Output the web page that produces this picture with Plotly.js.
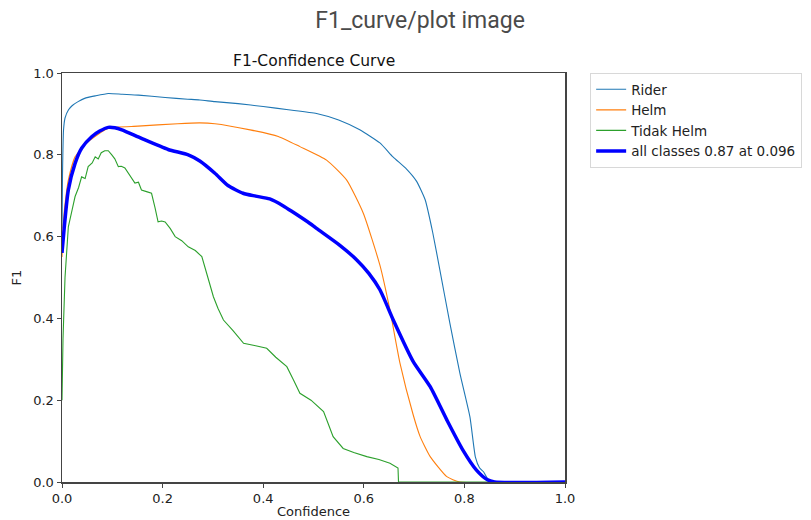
<!DOCTYPE html>
<html>
<head>
<meta charset="utf-8">
<script src="https://cdn.plot.ly/plotly-3.0.1.min.js"></script>
<style>html,body{margin:0;padding:0;background:#fff;}#chart{width:811px;height:520px;}</style>
</head>
<body>
<div id="chart"></div>
<script>
const seriesNames = ["Rider", "Helm", "Tidak Helm", "all classes 0.87 at 0.096"];

const riderX = [0, 0.001, 0.003, 0.006, 0.013, 0.02, 0.032, 0.045, 0.066, 0.092, 0.12, 0.152, 0.205, 0.25, 0.274, 0.304, 0.35, 0.4, 0.45, 0.506, 0.55, 0.592, 0.632, 0.658, 0.685, 0.705, 0.722, 0.737, 0.751, 0.771, 0.791, 0.811, 0.822, 0.83, 0.838, 0.851, 0.9, 1.0];
const riderY = [0.62, 0.75, 0.86, 0.89, 0.91, 0.92, 0.93, 0.938, 0.944, 0.95, 0.948, 0.946, 0.94, 0.936, 0.934, 0.93, 0.925, 0.918, 0.91, 0.901, 0.885, 0.861, 0.829, 0.795, 0.765, 0.735, 0.69, 0.61, 0.52, 0.389, 0.266, 0.159, 0.06, 0.035, 0.025, 0, 0, 0];

const helmX = [0, 0.003, 0.008, 0.0126, 0.026, 0.052, 0.092, 0.151, 0.23, 0.274, 0.304, 0.374, 0.43, 0.473, 0.526, 0.566, 0.599, 0.632, 0.652, 0.672, 0.698, 0.712, 0.732, 0.765, 0.791, 1.0];
const helmY = [0.55, 0.64, 0.70, 0.738, 0.795, 0.832, 0.865, 0.87, 0.876, 0.878, 0.876, 0.861, 0.845, 0.82, 0.787, 0.738, 0.657, 0.53, 0.42, 0.29, 0.165, 0.111, 0.062, 0.013, 0, 0];

const tidakX = [0, 0.002, 0.006, 0.0126, 0.02, 0.026, 0.033, 0.039, 0.046, 0.052, 0.06, 0.066, 0.072, 0.078, 0.085, 0.092, 0.099, 0.105, 0.112, 0.118, 0.125, 0.135, 0.145, 0.152, 0.158, 0.168, 0.178, 0.185, 0.191, 0.198, 0.205, 0.215, 0.225, 0.238, 0.251, 0.265, 0.278, 0.29, 0.301, 0.31, 0.321, 0.34, 0.361, 0.385, 0.407, 0.425, 0.447, 0.46, 0.473, 0.495, 0.52, 0.53, 0.539, 0.559, 0.58, 0.606, 0.63, 0.652, 0.668, 0.669, 1.0];
const tidakY = [0.2, 0.35, 0.5, 0.624, 0.665, 0.698, 0.72, 0.746, 0.742, 0.771, 0.78, 0.795, 0.79, 0.805, 0.81, 0.81, 0.80, 0.79, 0.771, 0.772, 0.768, 0.75, 0.731, 0.733, 0.714, 0.71, 0.706, 0.67, 0.636, 0.638, 0.636, 0.62, 0.6, 0.59, 0.575, 0.566, 0.551, 0.5, 0.453, 0.425, 0.396, 0.37, 0.339, 0.333, 0.327, 0.305, 0.282, 0.25, 0.217, 0.2, 0.172, 0.14, 0.111, 0.082, 0.072, 0.062, 0.055, 0.046, 0.034, 0, 0];

const allX = [0, 0.0126, 0.026, 0.039, 0.059, 0.075, 0.092, 0.105, 0.119, 0.158, 0.211, 0.251, 0.274, 0.304, 0.33, 0.36, 0.385, 0.413, 0.44, 0.459, 0.493, 0.506, 0.553, 0.586, 0.61, 0.632, 0.659, 0.698, 0.732, 0.765, 0.797, 0.824, 0.845, 0.86, 1.0];
const allY = [0.56, 0.714, 0.779, 0.816, 0.844, 0.858, 0.867, 0.866, 0.861, 0.84, 0.813, 0.8, 0.785, 0.755, 0.725, 0.706, 0.699, 0.692, 0.675, 0.66, 0.632, 0.62, 0.578, 0.543, 0.51, 0.47, 0.395, 0.295, 0.233, 0.152, 0.078, 0.029, 0.006, 0, 0];

const tickVals = [0, 0.2, 0.4, 0.6, 0.8, 1.0];
const tickText = ["0.0", "0.2", "0.4", "0.6", "0.8", "1.0"];

const mpl = "DejaVu Sans, sans-serif";

const traces = [
  {x: riderX, y: riderY, name: seriesNames[0], mode: "lines", line: {color: "#1f77b4", width: 1.1, shape: "spline", smoothing: 0.5}},
  {x: helmX, y: helmY, name: seriesNames[1], mode: "lines", line: {color: "#ff7f0e", width: 1.1, shape: "spline", smoothing: 0.5}},
  {x: tidakX, y: tidakY, name: seriesNames[2], mode: "lines", line: {color: "#2ca02c", width: 1.1}},
  {x: allX, y: allY, name: seriesNames[3], mode: "lines", line: {color: "#0000ff", width: 3.5, shape: "spline", smoothing: 0.6}}
];

const axisCommon = {
  range: [0, 1], tickvals: tickVals, ticktext: tickText,
  showgrid: false, zeroline: false, showline: true, mirror: true,
  linecolor: "#444", linewidth: 1.5, ticks: "outside", ticklen: 4, tickcolor: "#444",
  tickfont: {family: mpl, size: 13, color: "#222"}, automargin: false
};

const layout = {
  width: 811, height: 520,
  margin: {l: 62, r: 246, t: 73, b: 38, autoexpand: false},
  paper_bgcolor: "#fff", plot_bgcolor: "#fff",
  title: {text: "F1_curve/plot image", x: 0.518, xanchor: "center", y: 0.962, yanchor: "middle",
          font: {family: "Roboto, sans-serif", size: 23, color: "#4a4a4a"}},
  xaxis: Object.assign({}, axisCommon, {title: {text: "Confidence", standoff: 2, font: {family: mpl, size: 13, color: "#222"}}}),
  yaxis: Object.assign({}, axisCommon, {title: {text: "F1", standoff: 8, font: {family: mpl, size: 13, color: "#222"}}}),
  showlegend: true,
  legend: {x: 1.05, y: 1.0, xanchor: "left", yanchor: "top", bgcolor: "#fff", bordercolor: "#d8d8d8", borderwidth: 1,
           font: {family: mpl, size: 13.5, color: "#222"}},
  annotations: [{text: "F1-Confidence Curve", xref: "paper", yref: "paper", x: 0.5, y: 1, xanchor: "center", yanchor: "bottom",
                 yshift: 1, showarrow: false, font: {family: mpl, size: 15.5, color: "#111"}}]
};

Plotly.newPlot("chart", traces, layout, {displayModeBar: false, staticPlot: true});
</script>
</body>
</html>
